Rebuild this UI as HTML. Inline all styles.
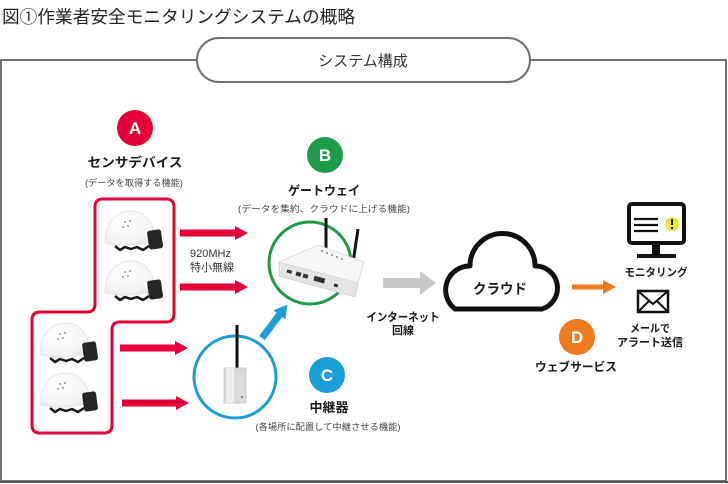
<!DOCTYPE html>
<html><head><meta charset="utf-8">
<style>
html,body{margin:0;padding:0;background:#fff;}
svg{display:block;}
text{font-family:"Liberation Sans","Noto Sans CJK JP",sans-serif;}
.b{font-weight:bold;fill:#1a1a1a;}
.s{fill:#444;}
.l{font-weight:bold;fill:#fff;font-size:17px;}
</style></head>
<body>
<svg width="728" height="484" viewBox="0 0 728 484" xmlns="http://www.w3.org/2000/svg">
<defs>
<radialGradient id="hg" cx="40%" cy="35%" r="75%">
<stop offset="0" stop-color="#ffffff"/><stop offset="0.75" stop-color="#f4f4f4"/><stop offset="1" stop-color="#e0e0e0"/>
</radialGradient>
<g id="helmet">
<path d="M10,35 L15,39 L20,36 L26,38 L32,36 L38,39 L44,35" fill="none" stroke="#1a1a1a" stroke-width="2.5" stroke-linejoin="round"/>
<path d="M0,32 C0,10 12,0 26,0 C40,0 50,12 50,30 Q25,37 0,32 Z" fill="url(#hg)" stroke="#e6e6e6" stroke-width="1"/>
<circle cx="20" cy="11" r="1" fill="#999"/><circle cx="25" cy="10" r="1" fill="#999"/>
<circle cx="18" cy="16" r="1" fill="#999"/><circle cx="23" cy="15" r="1" fill="#999"/>
<rect x="43" y="19" width="14" height="19" rx="2.5" fill="#262626" transform="rotate(-8 50 28)"/>
</g>
</defs>

<!-- title -->
<text x="2" y="23" font-size="17.5" fill="#222" textLength="353" lengthAdjust="spacingAndGlyphs">図①作業者安全モニタリングシステムの概略</text>

<!-- frame -->
<rect x="1" y="60" width="725" height="421" fill="none" stroke="#707070" stroke-width="2"/>
<line x1="0" y1="482" x2="728" y2="482" stroke="#555" stroke-width="2"/>
<rect x="197" y="38" width="333" height="44" rx="22" fill="#fff" stroke="#707070" stroke-width="2"/>
<text x="363" y="66" font-size="15" fill="#333" text-anchor="middle">システム構成</text>

<!-- A -->
<circle cx="135" cy="128" r="18" fill="#e5003a"/>
<text x="135" y="134" class="l" text-anchor="middle">A</text>
<text x="135" y="167" class="b" font-size="13" text-anchor="middle" textLength="95" lengthAdjust="spacingAndGlyphs">センサデバイス</text>
<text x="134" y="186" class="s" font-size="9" text-anchor="middle" textLength="98" lengthAdjust="spacingAndGlyphs">(データを取得する機能)</text>

<!-- red box -->
<path d="M103,199 L166,199 Q174,199 174,207 L174,314 Q174,322 166,322 L120,322 Q112,322 112,330 L112,425 Q112,433 104,433 L40,433 Q32,433 32,425 L32,320 Q32,312 40,312 L87,312 Q95,312 95,304 L95,207 Q95,199 103,199 Z" fill="none" stroke="#e5003a" stroke-width="3"/>

<use href="#helmet" x="105" y="211"/>
<use href="#helmet" x="105" y="261"/>
<use href="#helmet" x="40" y="323"/>
<use href="#helmet" x="40" y="373"/>

<!-- red arrows -->
<g fill="#e5003a">
<path d="M180,229.5 L235,229.5 L235,226 L248,233 L235,240 L235,236.5 L180,236.5 Z"/>
<path d="M180,283.5 L235,283.5 L235,280 L248,287 L235,294 L235,290.5 L180,290.5 Z"/>
<path d="M120,344.5 L175,344.5 L175,341 L188,348 L175,355 L175,351.5 L120,351.5 Z"/>
<path d="M122,399.5 L176,399.5 L176,396 L189,403 L176,410 L176,406.5 L122,406.5 Z"/>
</g>
<text x="190" y="257" font-size="11" fill="#333">920MHz</text>
<text x="190" y="271" font-size="11" fill="#333">特小無線</text>

<!-- B -->
<circle cx="325" cy="155" r="18" fill="#1e9a48"/>
<text x="325" y="161" class="l" text-anchor="middle">B</text>
<text x="324" y="195" class="b" font-size="12.5" text-anchor="middle" textLength="72" lengthAdjust="spacingAndGlyphs">ゲートウェイ</text>
<text x="324" y="212" class="s" font-size="9" text-anchor="middle" textLength="172" lengthAdjust="spacingAndGlyphs">(データを集約、クラウドに上げる機能)</text>

<circle cx="310" cy="263" r="41" fill="none" stroke="#1e9a48" stroke-width="3"/>
<!-- gateway device -->
<line x1="326" y1="218" x2="326" y2="250" stroke="#111" stroke-width="3"/>
<line x1="358" y1="229" x2="353" y2="263" stroke="#111" stroke-width="3"/>
<path d="M279,276 L355,297 L358,283 L279,262 Z" fill="#e4e4e4" stroke="#cfcfcf" stroke-width="0.8"/>
<path d="M279,262 L318,245 L364,262 L358,283 Z" fill="#f7f7f7" stroke="#d6d6d6" stroke-width="0.8"/>
<g fill="#888"><circle cx="322" cy="251" r="1"/><circle cx="327" cy="253" r="1"/><circle cx="332" cy="255" r="1"/><circle cx="337" cy="257" r="1"/><circle cx="342" cy="259" r="1"/></g>
<g fill="#333"><rect x="287" y="270" width="5" height="3" transform="rotate(15 289 271)"/><rect x="296" y="272" width="5" height="4" transform="rotate(15 298 274)"/><rect x="303" y="274" width="5" height="4" transform="rotate(15 305 276)"/><rect x="314" y="277" width="11" height="5" transform="rotate(15 319 279)"/><rect x="334" y="284" width="4" height="3" transform="rotate(15 336 285)"/></g>

<!-- relay -->
<circle cx="235" cy="377" r="41" fill="none" stroke="#1b9fd6" stroke-width="3"/>
<line x1="237" y1="325" x2="237" y2="370" stroke="#111" stroke-width="3"/>
<rect x="224" y="368" width="22" height="35" fill="#d9d9d9" stroke="#c4c4c4" stroke-width="0.8"/>
<rect x="226" y="368" width="8" height="35" fill="#ececec"/>
<circle cx="242" cy="397" r="1" fill="#666"/>

<!-- blue arrow -->
<g transform="translate(262,338) rotate(-53)">
<path d="M0,-3.5 L29,-3.5 L29,-7.5 L42,0 L29,7.5 L29,3.5 L0,3.5 Z" fill="#1b9fd6"/>
</g>

<!-- C -->
<circle cx="327" cy="375" r="18" fill="#1b9fd6"/>
<text x="327" y="381" class="l" text-anchor="middle">C</text>
<text x="329" y="412" class="b" font-size="13" text-anchor="middle">中継器</text>
<text x="328" y="430" class="s" font-size="9" text-anchor="middle" textLength="145" lengthAdjust="spacingAndGlyphs">(各場所に配置して中継させる機能)</text>

<!-- gray arrow -->
<path d="M383,278 L420,278 L420,271 L436,283 L420,295 L420,288 L383,288 Z" fill="#c9c9c9"/>
<text x="403" y="321" class="b" font-size="11.5" text-anchor="middle" textLength="73" lengthAdjust="spacingAndGlyphs">インターネット</text>
<text x="403" y="334" class="b" font-size="11" text-anchor="middle">回線</text>

<!-- cloud -->
<path d="M455,309 A24,24 0 0 1 470,266 A32.5,32.5 0 0 1 535,266 A22,22 0 0 1 542,309 Z" fill="#fff" stroke="#111" stroke-width="5" stroke-linejoin="round"/>
<text x="500" y="294" class="b" font-size="14" text-anchor="middle" textLength="54" lengthAdjust="spacingAndGlyphs">クラウド</text>

<!-- orange arrow -->
<path d="M572,284.5 L603,284.5 L603,280 L616,287 L603,294 L603,289.5 L572,289.5 Z" fill="#ee7a1e"/>

<!-- D -->
<circle cx="577" cy="337" r="18" fill="#ee7a1e"/>
<text x="577" y="343" class="l" text-anchor="middle">D</text>
<text x="576" y="371" class="b" font-size="12" text-anchor="middle" textLength="82" lengthAdjust="spacingAndGlyphs">ウェブサービス</text>

<!-- monitor -->
<rect x="629" y="204" width="55" height="39" rx="3" fill="#fff" stroke="#111" stroke-width="4"/>
<g stroke="#111" stroke-width="2.2"><line x1="634" y1="219" x2="658" y2="219"/><line x1="634" y1="225" x2="658" y2="225"/><line x1="634" y1="231" x2="658" y2="231"/></g>
<circle cx="672" cy="224" r="7" fill="#e8e83a"/>
<rect x="671" y="219" width="2" height="6" fill="#111"/><rect x="671" y="227" width="2" height="2" fill="#111"/>
<rect x="652" y="245" width="8" height="10" fill="#111"/>
<rect x="637" y="254" width="39" height="4" fill="#111"/>
<text x="656" y="276" class="b" font-size="11" text-anchor="middle" textLength="63" lengthAdjust="spacingAndGlyphs">モニタリング</text>

<!-- envelope -->
<rect x="638" y="291" width="30" height="21" fill="#fff" stroke="#111" stroke-width="2.5"/>
<path d="M638,291 L653,304 L668,291 M638,312 L649,301 M668,312 L657,301" fill="none" stroke="#111" stroke-width="2"/>
<text x="650" y="332" class="b" font-size="11" text-anchor="middle" textLength="40" lengthAdjust="spacingAndGlyphs">メールで</text>
<text x="650" y="346" class="b" font-size="11" text-anchor="middle" textLength="66" lengthAdjust="spacingAndGlyphs">アラート送信</text>
</svg>
</body></html>
